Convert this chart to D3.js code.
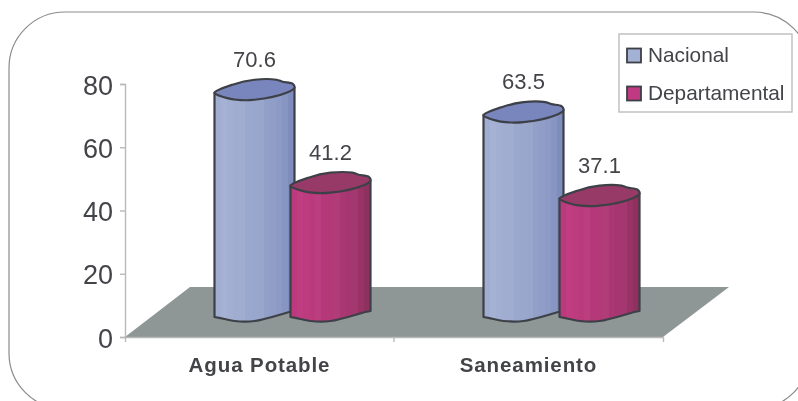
<!DOCTYPE html>
<html>
<head>
<meta charset="utf-8">
<script src="https://cdn.jsdelivr.net/npm/d3@7"></script>
<style>
  html, body { margin: 0; padding: 0; background: #fff; overflow: hidden; }
  text { font-family: "Liberation Sans", Arial, sans-serif; fill: #434448; }
  svg { display: block; filter: blur(0.35px); }
</style>
</head>
<body>
<div id="chart"></div>
<script>
var categories = ["Agua Potable", "Saneamiento"];
var seriesNames = ["Nacional", "Departamental"];
var nacional = [70.6, 63.5];
var departamental = [41.2, 37.1];
var yTicks = [0, 20, 40, 60, 80];

var svg_width = 798, svg_height = 401;
var depth_x = 65, depth_y = 50;   // floor skew
var cyl_drop = 24;                // cylinder base sits behind the front edge
var cyl_shift = 33;

var colors = new Map([
  ["Nacional", { swatch: "#a3b1d4", cap: "#7985bd", slats: ["#a1aed1","#a6b2d4","#a2afd2","#a0add1","#a0add1","#9aa8ce","#99a7cd","#98a6cc","#92a0c9","#8f9dc7","#8c9ac5","#8795c2","#7f8dbd"] }],
  ["Departamental", { swatch: "#bf3a80", cap: "#983a68", slats: ["#bb3a7e","#c03d81","#bd3b7f","#bb3a7e","#bb3f7e","#b5397a","#b33979","#b03c78","#a93773","#a53671","#a2386f","#993365","#8f3160"] }]
]);

var svg = d3.select("#chart").append("svg")
  .attr("width", svg_width)
  .attr("height", svg_height);

// rounded frame, runs off the page on the right and bottom
svg.append("rect")
  .attr("x", 9).attr("y", 12)
  .attr("width", 801).attr("height", 397)
  .attr("rx", 56).attr("ry", 56)
  .attr("fill", "#fff")
  .attr("stroke", "#8b8b8b")
  .attr("stroke-width", 1.2);

var x0 = d3.scaleBand().domain(categories).range([125, 663]);
var x1 = d3.scaleBand().domain(seriesNames).range([0, 152]);
var y = d3.scaleLinear().domain([0, 80]).range([337, 84]);

// floor
var floorPts = [
  [x0.range()[0], y(0)],
  [x0.range()[0] + depth_x, y(0) - depth_y],
  [x0.range()[1] + depth_x + 1, y(0) - depth_y],
  [x0.range()[1], y(0)]
];
svg.append("polygon")
  .attr("points", floorPts.join(" "))
  .attr("fill", "#8e9696");

// axes
var yAxis = d3.axisLeft(y).tickValues(yTicks).tickSize(5).tickPadding(7);
var gy = svg.append("g").attr("transform", "translate(" + x0.range()[0] + ",0)").call(yAxis);
gy.selectAll("text").attr("font-size", 27).attr("dy", "0.37em").style("font-family", null);
gy.selectAll("line, path").attr("stroke", "#b9b9b9").attr("stroke-width", 1.4);

var xAxis = d3.axisBottom(x0).tickSize(0).tickPadding(20).tickSizeOuter(5);
var gx = svg.append("g").attr("transform", "translate(0," + y(0) + ")").call(xAxis);
gx.selectAll("text")
  .attr("font-size", 20.5)
  .attr("font-weight", "bold")
  .attr("letter-spacing", 0.9)
  .attr("dy", "0.71em");
gx.selectAll("path").attr("stroke", "#b9b9b9").attr("stroke-width", 1.4);
// tick between the two categories
gx.append("line")
  .attr("x1", x0(categories[1])).attr("x2", x0(categories[1]))
  .attr("y1", 0).attr("y2", 5)
  .attr("stroke", "#b9b9b9").attr("stroke-width", 1.4);

// slatted gradients
var defs = svg.append("defs");
seriesNames.forEach(function(s, i) {
  var slats = colors.get(s).slats;
  var g = defs.append("linearGradient").attr("id", "grad" + i);
  slats.forEach(function(c, k) {
    g.append("stop").attr("offset", k / slats.length).attr("stop-color", c);
    g.append("stop").attr("offset", (k + 1) / slats.length).attr("stop-color", c);
  });
});

// outline of the tilted cylinder ends, around its centre
var capPts = [[-40,3],[-22,-5],[0,-10],[22,-10],[28,-8],[38,-6],[40,-2],[32,3],[0,10],[-18,10],[-35,6]];
var basePts = [[40,-2],[35,-1],[0,8],[-20,8],[-30,6],[-40,4]];
var capLine = d3.line().curve(d3.curveCatmullRomClosed.alpha(0.5));
var baseLine = d3.line().curve(d3.curveCatmullRom.alpha(0.5));

function cylinder(sel, d) {
  var cx = x0(d.cat) + x0.bandwidth() / 2 + cyl_shift - x1.bandwidth() + x1(d.series) + x1.bandwidth() / 2;
  var top = y(d.value) - cyl_drop;
  var bottom = y(0) - cyl_drop;
  var col = colors.get(d.series);
  var bodyTop = "M" + (cx - 40) + "," + (top + 3) + "L" + (cx - 40) + "," + (bottom + 4);
  var base = baseLine(basePts.slice().reverse().map(function(p) { return [cx + p[0], bottom + p[1]]; }));
  var body = bodyTop + "L" + base.slice(1) + "L" + (cx + 40) + "," + (top - 2) + "Z";
  sel.append("path")
    .attr("d", body)
    .attr("fill", "url(#grad" + seriesNames.indexOf(d.series) + ")")
    .attr("stroke", "#3d4046").attr("stroke-width", 2.2).attr("stroke-linejoin", "round");
  sel.append("path")
    .attr("d", capLine(capPts.map(function(p) { return [cx + p[0], top + p[1]]; })))
    .attr("fill", col.cap)
    .attr("stroke", "#3d4046").attr("stroke-width", 2.2);
  sel.append("text")
    .attr("x", cx).attr("y", top - 23)
    .attr("text-anchor", "middle")
    .attr("font-size", 22)
    .text(d.value.toFixed(1));
}

var rows = [];
categories.forEach(function(c, i) {
  rows.push({ cat: c, series: seriesNames[0], value: nacional[i] });
  rows.push({ cat: c, series: seriesNames[1], value: departamental[i] });
});

svg.selectAll("g.cyl")
  .data(rows)
  .enter()
  .append("g")
  .attr("class", "cyl")
  .each(function(d) { cylinder(d3.select(this), d); });

// legend
var legend = svg.append("g");
legend.append("rect")
  .attr("x", 619).attr("y", 34)
  .attr("width", 173).attr("height", 78)
  .attr("fill", "#fff")
  .attr("stroke", "#bdbdbd").attr("stroke-width", 1.4);
seriesNames.forEach(function(s, i) {
  legend.append("rect")
    .attr("x", 627).attr("y", 48.5 + i * 38)
    .attr("width", 14).attr("height", 14)
    .attr("fill", colors.get(s).swatch)
    .attr("stroke", "#3d4046").attr("stroke-width", 1.8);
  legend.append("text")
    .attr("x", 648).attr("y", 62 + i * 38)
    .attr("font-size", 20.8)
    .text(s);
});
</script>
</body>
</html>
